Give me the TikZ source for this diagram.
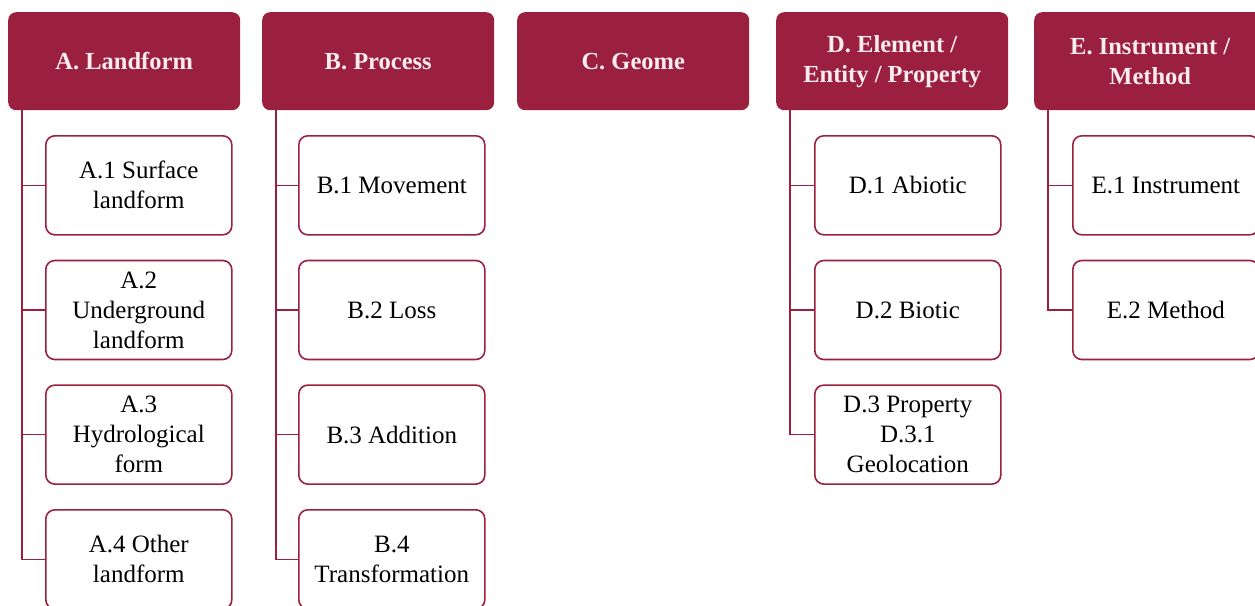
\documentclass[tikz,border=0pt]{standalone}
\usepackage{fontspec}
\setmainfont{Liberation Serif}
\definecolor{crimson}{RGB}{155,32,64}
\definecolor{headtext}{RGB}{250,236,240}

\begin{document}
\begin{tikzpicture}[x=1pt,y=-1pt,
  header/.style={fill=crimson, draw=none, rounded corners=8pt,
    minimum width=232pt, minimum height=98pt, anchor=north west,
    text=headtext, font=\fontsize{24.5}{30}\selectfont\bfseries,
    align=center, inner sep=0pt},
  child/.style={draw=crimson, line width=1.6pt, fill=white, rounded corners=9pt,
    minimum width=186pt, minimum height=99pt, anchor=north west,
    font=\fontsize{25}{30}\selectfont, align=center, inner sep=0pt},
  link/.style={draw=crimson, line width=1.6pt}]

\useasboundingbox (0,0) rectangle (1255,605);
\clip (0,0) rectangle (1255,605);

% category headers
\node[header] (A) at (8,12)    {A. Landform};
\node[header] (B) at (262,12)  {B. Process};
\node[header] (C) at (517,12)  {C. Geome};
\node[header] (D) at (776,12)  {D. Element /\\Entity / Property};
\node[header] (E) at (1034,12) {E. Instrument /\\Method};

% trunk anchors
\coordinate (Ax) at ([xshift=14pt]A.south west);
\coordinate (Bx) at ([xshift=14pt]B.south west);
\coordinate (Dx) at ([xshift=14pt]D.south west);
\coordinate (Ex) at ([xshift=14pt]E.south west);

% A children
\node[child] (A1) at (45,135)    {A.1 Surface\\landform};
\node[child] (A2) at (45,259.7)  {A.2\\Underground\\landform};
\node[child] (A3) at (45,384.3)  {A.3\\Hydrological\\form};
\node[child] (A4) at (45,509)    {A.4 Other\\landform};

% B children
\node[child] (B1) at (298,135)   {B.1 Movement};
\node[child] (B2) at (298,259.7) {B.2 Loss};
\node[child] (B3) at (298,384.3) {B.3 Addition};
\node[child] (B4) at (298,509)   {B.4\\Transformation};

% D children
\node[child] (D1) at (814,135)   {D.1 Abiotic};
\node[child] (D2) at (814,259.7) {D.2 Biotic};
\node[child] (D3) at (814,384.3) {D.3 Property\\D.3.1\\Geolocation};

% E children
\node[child] (E1) at (1072,135)   {E.1 Instrument};
\node[child] (E2) at (1072,259.7) {E.2 Method};

% connectors
\draw[link] (Ax) |- (A4.west);
\draw[link] (Ax |- A1.west) -- (A1.west);
\draw[link] (Ax |- A2.west) -- (A2.west);
\draw[link] (Ax |- A3.west) -- (A3.west);

\draw[link] (Bx) |- (B4.west);
\draw[link] (Bx |- B1.west) -- (B1.west);
\draw[link] (Bx |- B2.west) -- (B2.west);
\draw[link] (Bx |- B3.west) -- (B3.west);

\draw[link] (Dx) |- (D3.west);
\draw[link] (Dx |- D1.west) -- (D1.west);
\draw[link] (Dx |- D2.west) -- (D2.west);

\draw[link] (Ex) |- (E2.west);
\draw[link] (Ex |- E1.west) -- (E1.west);
\end{tikzpicture}
\end{document}
